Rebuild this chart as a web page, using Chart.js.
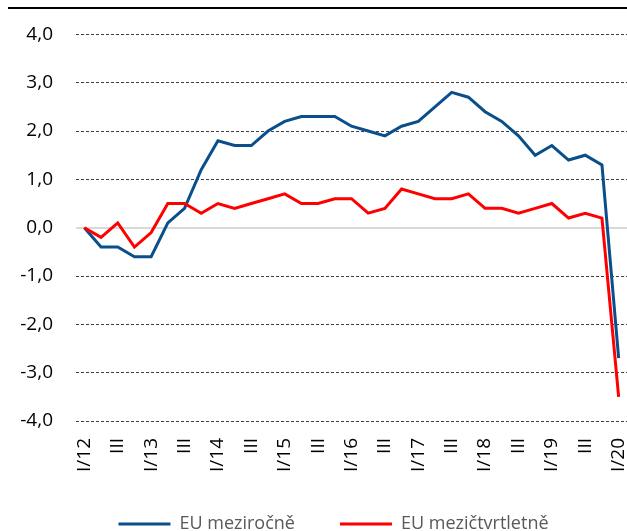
<!DOCTYPE html>
<html>
<head>
<meta charset="utf-8">
<script src="https://cdn.jsdelivr.net/npm/chart.js@4.4.1/dist/chart.umd.min.js"></script>
<style>
  html, body { margin: 0; padding: 0; background: #fff; }
  #wrap { width: 627px; height: 531px; }
</style>
</head>
<body>
<div id="wrap"><canvas id="gdpChart"></canvas></div>
<script>
const quarters = [
  'I/12', 'II/12', 'III/12', 'IV/12',
  'I/13', 'II/13', 'III/13', 'IV/13',
  'I/14', 'II/14', 'III/14', 'IV/14',
  'I/15', 'II/15', 'III/15', 'IV/15',
  'I/16', 'II/16', 'III/16', 'IV/16',
  'I/17', 'II/17', 'III/17', 'IV/17',
  'I/18', 'II/18', 'III/18', 'IV/18',
  'I/19', 'II/19', 'III/19', 'IV/19',
  'I/20'
];
const tickLabels = ['I/12', 'III', 'I/13', 'III', 'I/14', 'III', 'I/15', 'III', 'I/16',
  'III', 'I/17', 'III', 'I/18', 'III', 'I/19', 'III', 'I/20'];

const euYoY = [0.0, -0.4, -0.4, -0.6, -0.6, 0.1, 0.4, 1.2, 1.8, 1.7, 1.7, 2.0, 2.2, 2.3, 2.3, 2.3,
  2.1, 2.0, 1.9, 2.1, 2.2, 2.5, 2.8, 2.7, 2.4, 2.2, 1.9, 1.5, 1.7, 1.4, 1.5, 1.3, -2.7];
const euQoQ = [0.0, -0.2, 0.1, -0.4, -0.1, 0.5, 0.5, 0.3, 0.5, 0.4, 0.5, 0.6, 0.7, 0.5, 0.5, 0.6,
  0.6, 0.3, 0.4, 0.8, 0.7, 0.6, 0.6, 0.7, 0.4, 0.4, 0.3, 0.4, 0.5, 0.2, 0.3, 0.2, -3.5];

const yMin = -4, yMax = 4;
const fontFamily = "'Open Sans', 'Noto Sans', sans-serif";

// black rule at the very top + nudge the legend where Excel had it
const pageTweaks = {
  id: 'pageTweaks',
  afterLayout(chart) {
    const lg = chart.legend;
    lg.left += 20; lg.right += 20;
    lg.top -= 3;
  },
  afterDraw(chart) {
    const ctx = chart.ctx;
    ctx.save();
    ctx.fillStyle = '#000';
    ctx.fillRect(8, 7, chart.width - 8, 2);
    ctx.restore();
  }
};

new Chart(document.getElementById('gdpChart'), {
  type: 'line',
  data: {
    labels: quarters,
    datasets: [{
      label: 'EU meziročně',
      data: euYoY,
      borderColor: '#0a4f8c',
      backgroundColor: '#0a4f8c',
      borderWidth: 3,
      pointRadius: 0,
      tension: 0,
      order: 1
    }, {
      label: 'EU mezičtvrtletně',
      data: euQoQ,
      borderColor: '#ff0000',
      backgroundColor: '#ff0000',
      borderWidth: 3,
      pointRadius: 0,
      tension: 0,
      order: 0
    }]
  },
  options: {
    responsive: true,
    maintainAspectRatio: false,
    animation: false,
    layout: { padding: { top: 25, left: 0, right: 0, bottom: 0 } },
    plugins: {
      tooltip: { enabled: false },
      legend: {
        position: 'bottom',
        maxHeight: 58,
        labels: {
          usePointStyle: true,
          pointStyle: 'line',
          pointStyleWidth: 52,
          padding: 45,
          color: '#595959',
          font: { family: fontFamily, size: 18 },
          sort: (a, b) => a.datasetIndex - b.datasetIndex
        }
      }
    },
    scales: {
      x: {
        offset: true,
        grid: { display: false, drawTicks: false },
        border: { display: false },
        ticks: {
          autoSkip: false,
          minRotation: 90,
          maxRotation: 90,
          padding: 17,
          color: '#000',
          font: { family: fontFamily, size: 19 },
          callback: (v, i) => (i % 2 === 0 ? tickLabels[i / 2] : '')
        },
        afterFit: s => {
          s.height = 52;
          s.paddingLeft = 0;
          s.paddingRight = 0;
        }
      },
      y: {
        min: yMin,
        max: yMax,
        grid: {
          drawTicks: false,
          color: c => (c.tick && c.tick.value === 0 ? '#d9d9d9' : '#404040'),
          lineWidth: c => (c.tick && c.tick.value === 0 ? 2 : 1)
        },
        border: {
          display: false,
          dash: c => (c.tick && c.tick.value === 0 ? [] : [3, 2])
        },
        ticks: {
          stepSize: 1,
          padding: 23,
          color: '#000',
          font: { family: fontFamily, size: 19 },
          callback: v => v.toFixed(1).replace('.', ',')
        },
        afterFit: s => { s.width = 76; }
      }
    }
  },
  plugins: [pageTweaks]
});
</script>
</body>
</html>
